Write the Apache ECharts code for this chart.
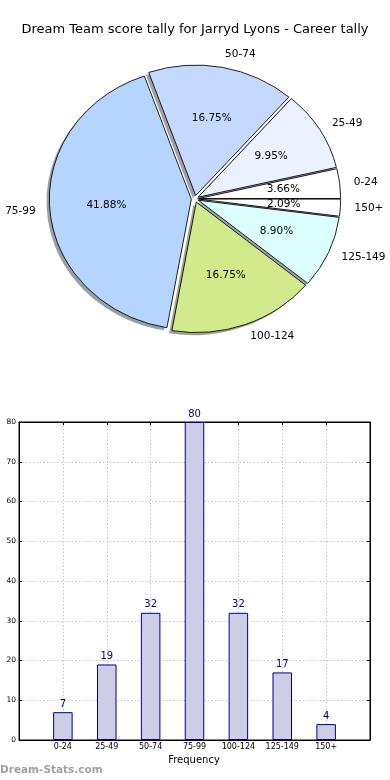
<!DOCTYPE html>
<html>
<head>
<meta charset="utf-8">
<script src="https://cdn.jsdelivr.net/npm/echarts@6/dist/echarts.min.js"></script>
<style>
html,body{margin:0;padding:0;background:#fff;}
#c{width:390px;height:780px;}
</style>
</head>
<body>
<div id="c"></div>
<script>
const categories = ['0-24', '25-49', '50-74', '75-99', '100-124', '125-149', '150+'];
const frequency = [7, 19, 32, 80, 32, 17, 4];
const yTicks = [0, 10, 20, 30, 40, 50, 60, 70, 80];
const sliceColors = ['#ffffff', '#eaf2ff', '#c5d9ff', '#b5d5ff', '#d0ea8c', '#dcffff', '#ffffff'];

const FONT = 'DejaVu Sans';
const total = frequency.reduce((a, b) => a + b, 0);
const pie = { cx: 195, cy: 198.9, rx: 142, ry: 130.5, explode: 0.026, shadow: 0.02 };

function shade(hex) {
  const r = parseInt(hex.slice(1, 3), 16), g = parseInt(hex.slice(3, 5), 16), b = parseInt(hex.slice(5, 7), 16);
  return 'rgba(' + Math.round(r * 0.3) + ',' + Math.round(g * 0.3) + ',' + Math.round(b * 0.3) + ',0.5)';
}

function renderSlice(params, api) {
  const i = params.dataIndex;
  let before = 0;
  for (let j = 0; j < i; j++) before += frequency[j];
  const v = api.value(0);
  const a0 = before / total * Math.PI * 2;
  const a1 = (before + v) / total * Math.PI * 2;
  const m = (a0 + a1) / 2;
  const c = Math.cos(m), s = Math.sin(m);
  const px = pie.cx + pie.explode * pie.rx * c;
  const py = pie.cy - pie.explode * pie.ry * s;
  const color = sliceColors[i];
  return {
    type: 'group',
    children: [
      {
        type: 'group', x: px, y: py, scaleY: pie.ry / pie.rx,
        children: [
          { type: 'sector', z2: 0,
            shape: { cx: -pie.shadow * pie.rx, cy: pie.shadow * pie.rx, r: pie.rx, r0: 0, startAngle: -a0, endAngle: -a1, clockwise: false },
            style: { fill: shade(color) } },
          { type: 'sector', z2: 10,
            shape: { cx: 0, cy: 0, r: pie.rx, r0: 0, startAngle: -a0, endAngle: -a1, clockwise: false },
            style: { fill: color, stroke: '#000', lineWidth: 0.9, strokeNoScale: true } }
        ]
      },
      { type: 'text', z2: 20, x: px + 1.1 * pie.rx * c, y: py - 1.1 * pie.ry * s,
        style: { text: categories[i], fill: '#000', fontSize: 10.5, fontFamily: FONT,
                 align: c > 0 ? 'left' : 'right', verticalAlign: 'middle' } },
      { type: 'text', z2: 20, x: px + 0.6 * pie.rx * c, y: py - 0.6 * pie.ry * s,
        style: { text: (v / total * 100).toFixed(2) + '%', fill: '#000', fontSize: 10.5, fontFamily: FONT,
                 align: 'center', verticalAlign: 'middle' } }
    ]
  };
}

const chart = echarts.init(document.getElementById('c'), null, { renderer: 'canvas' });
const gridLine = { show: true, lineStyle: { color: '#c4c4c4', width: 1, type: [1.5, 2] } };
const axisLine = { show: true, onZero: false, lineStyle: { color: '#000', width: 1 } };
const tick = { show: true, inside: true, length: 3, lineStyle: { color: '#000' } };
const option = {
  animation: false,
  backgroundColor: '#fff',
  textStyle: { fontFamily: FONT },
  graphic: [
    { type: 'text', x: 195, y: 30, style: { text: 'Dream Team score tally for Jarryd Lyons - Career tally',
      fill: '#000', fontSize: 13, fontFamily: FONT, align: 'center', verticalAlign: 'middle' } },
    { type: 'text', x: 194, y: 760, style: { text: 'Frequency', fill: '#000', fontSize: 10, fontFamily: FONT,
      align: 'center', verticalAlign: 'middle' } },
    { type: 'text', x: 0, y: 770, style: { text: 'Dream-Stats.com', fill: '#a0a0a0', fontSize: 10.5, fontWeight: 'bold',
      fontFamily: FONT, align: 'left', verticalAlign: 'middle' } }
  ],
  grid: { left: 19, right: 20, top: 422, bottom: 40, show: true, borderColor: '#000', borderWidth: 1, containLabel: false },
  xAxis: [
    { type: 'value', min: -1, max: 7, interval: 1, position: 'bottom',
      axisLine: axisLine, axisTick: tick,
      axisLabel: { formatter: v => categories[v] || '', fontSize: 8, color: '#000', margin: 3, fontFamily: FONT,
        showMinLabel: false, showMaxLabel: false },
      splitLine: gridLine },
    { type: 'value', min: -1, max: 7, interval: 1, position: 'top',
      axisLine: axisLine, axisTick: tick,
      axisLabel: { show: false }, splitLine: { show: false } }
  ],
  yAxis: [
    { type: 'value', min: yTicks[0], max: yTicks[yTicks.length - 1], interval: 10, position: 'left',
      axisLine: axisLine, axisTick: tick,
      axisLabel: { fontSize: 7.5, color: '#000', margin: 3, fontFamily: FONT },
      splitLine: gridLine },
    { type: 'value', min: yTicks[0], max: yTicks[yTicks.length - 1], interval: 10, position: 'right',
      axisLine: axisLine, axisTick: tick,
      axisLabel: { show: false }, splitLine: { show: false } }
  ],
  series: [
    { type: 'custom', coordinateSystem: 'none', renderItem: renderSlice,
      data: frequency.map((v, i) => ({ name: categories[i], value: v })) },
    { type: 'bar', xAxisIndex: 0, yAxisIndex: 0, barWidth: 19.5,
      data: frequency.map((v, i) => [i, v]),
      itemStyle: { color: '#cdcee6', borderColor: '#000080', borderWidth: 1 },
      label: { show: true, position: 'top', distance: 3, color: '#000080', fontSize: 10, fontFamily: FONT,
        formatter: p => p.value[1] } }
  ]
};
chart.setOption(option);
</script>
</body>
</html>
